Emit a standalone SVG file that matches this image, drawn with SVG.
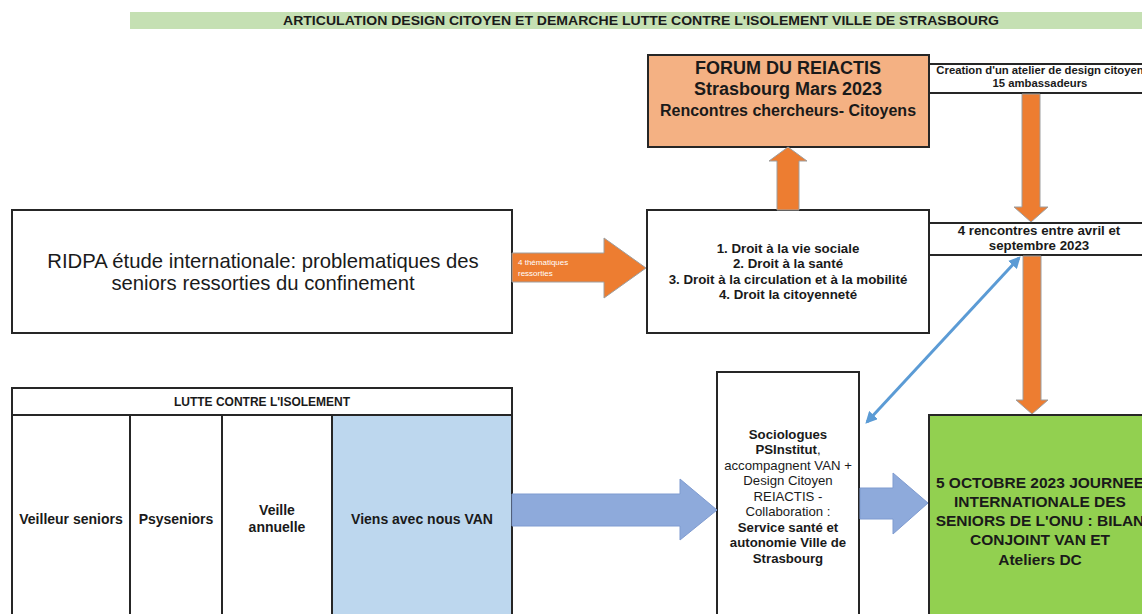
<svg xmlns="http://www.w3.org/2000/svg" width="1142" height="614" viewBox="0 0 1142 614">
<defs>
<style>
.box{stroke:#262626;stroke-width:2}
.t{font-family:"Liberation Sans",Arial,sans-serif;fill:#1a1a1a;text-anchor:middle}
.b{font-weight:bold}
.orange{fill:#ed7d31;stroke:#9e9e9e;stroke-width:1}
.blue{fill:#8eaadb;stroke:#7f9bd0;stroke-width:1}
</style>
<marker id="bh" viewBox="0 0 10 10" refX="8" refY="5" markerWidth="4" markerHeight="4" orient="auto-start-reverse">
<path d="M0,0 L10,5 L0,10 z" fill="#5b9bd5"/>
</marker>
</defs>
<rect width="1142" height="614" fill="#ffffff"/>

<g id="title">
<rect x="130" y="12" width="1012" height="17" fill="#c5e0b3"/>
<text class="t b" x="641" y="25" font-size="13" textLength="716" lengthAdjust="spacingAndGlyphs">ARTICULATION DESIGN CITOYEN ET DEMARCHE LUTTE CONTRE L'ISOLEMENT VILLE DE STRASBOURG</text>
</g>

<g id="forum">
<rect class="box" x="648" y="55" width="281" height="92" fill="#f4b183"/>
<text class="t b" x="788" y="74" font-size="18">FORUM DU REIACTIS</text>
<text class="t b" x="788" y="95" font-size="18">Strasbourg Mars 2023</text>
<text class="t b" x="788" y="116" font-size="16">Rencontres chercheurs- Citoyens</text>
</g>

<g id="creation">
<rect class="box" x="929" y="64" width="230" height="29" fill="#ffffff"/>
<text class="t b" x="1040" y="74" font-size="11.3">Creation d'un  atelier de design citoyen</text>
<text class="t b" x="1040" y="87" font-size="11.3">15 ambassadeurs</text>
</g>

<g id="ridpa">
<rect class="box" x="12" y="210" width="500" height="123" fill="#ffffff"/>
<text class="t" x="263" y="268" font-size="20.3">RIDPA étude internationale: problematiques des</text>
<text class="t" x="263" y="290" font-size="20.3">seniors ressorties du confinement</text>
</g>

<g id="droits">
<rect class="box" x="647" y="210" width="282" height="123" fill="#ffffff"/>
<text class="t b" x="788" y="253" font-size="13.3">1. Droit à la vie sociale</text>
<text class="t b" x="788" y="268" font-size="13.3">2. Droit à la santé</text>
<text class="t b" x="788" y="284" font-size="13.3">3. Droit à la circulation et à la mobilité</text>
<text class="t b" x="788" y="299" font-size="13.3">4. Droit la citoyenneté</text>
</g>

<g id="rencontres">
<rect class="box" x="929" y="223" width="230" height="32" fill="#ffffff"/>
<text class="t b" x="1039" y="235" font-size="13.3">4 rencontres entre avril  et</text>
<text class="t b" x="1039" y="250" font-size="13.3">septembre 2023</text>
</g>

<g id="lutte">
<rect x="332" y="415" width="180" height="213" fill="#bdd7ee"/>
<line x1="12" y1="415" x2="512" y2="415" stroke="#262626" stroke-width="2"/>
<line x1="130" y1="415" x2="130" y2="620" stroke="#262626" stroke-width="2"/>
<line x1="222" y1="415" x2="222" y2="620" stroke="#262626" stroke-width="2"/>
<line x1="332" y1="415" x2="332" y2="620" stroke="#262626" stroke-width="2"/>
<rect x="12" y="388" width="500" height="240" fill="none" stroke="#262626" stroke-width="2"/>
<text class="t b" x="262" y="406" font-size="12">LUTTE CONTRE L'ISOLEMENT</text>
<text class="t b" x="71" y="524" font-size="14">Veilleur seniors</text>
<text class="t b" x="176" y="524" font-size="14">Psyseniors</text>
<text class="t b" x="277" y="515" font-size="14">Veille</text>
<text class="t b" x="277" y="532" font-size="14">annuelle</text>
<text class="t b" x="422" y="524" font-size="14">Viens avec nous VAN</text>
</g>

<g id="sociologues">
<rect class="box" x="717" y="372" width="142" height="260" fill="#ffffff"/>
<text class="t b" x="788" y="439" font-size="13.2">Sociologues</text>
<text class="t" x="788" y="454" font-size="13.2"><tspan font-weight="bold">PSInstitut</tspan>,</text>
<text class="t" x="788" y="470" font-size="13.2">accompagnent VAN +</text>
<text class="t" x="788" y="485" font-size="13.2">Design Citoyen</text>
<text class="t" x="788" y="501" font-size="13.2">REIACTIS -</text>
<text class="t" x="788" y="516" font-size="13.2">Collaboration :</text>
<text class="t b" x="788" y="532" font-size="13.2">Service santé et</text>
<text class="t b" x="788" y="547" font-size="13.2">autonomie Ville de</text>
<text class="t b" x="788" y="563" font-size="13.2">Strasbourg</text>
</g>

<g id="journee">
<rect class="box" x="929" y="415" width="230" height="220" fill="#92d050"/>
<text class="t b" x="1040" y="488" font-size="15.5">5 OCTOBRE 2023 JOURNEE</text>
<text class="t b" x="1040" y="507" font-size="15.5">INTERNATIONALE DES</text>
<text class="t b" x="1040" y="526" font-size="15.5">SENIORS DE L'ONU : BILAN</text>
<text class="t b" x="1040" y="545" font-size="15.5">CONJOINT VAN ET</text>
<text class="t b" x="1040" y="565" font-size="15.5">Ateliers DC</text>
</g>

<g id="connectors">
<polygon class="orange" points="512,253 604,253 604,238 646,268 604,298 604,282 512,282"/>
<text x="518" y="265" font-family="Liberation Sans, Arial, sans-serif" font-size="8" fill="#ffffff">4 thématiques</text>
<text x="518" y="276" font-family="Liberation Sans, Arial, sans-serif" font-size="8" fill="#ffffff">ressorties</text>
<polygon class="orange" points="777,210 777,161 769,161 788,147 807,161 799,161 799,210"/>
<polygon class="orange" points="1022,94 1040,94 1040,207 1048,207 1031,222 1014,207 1022,207"/>
<polygon class="orange" points="1023,256 1041,256 1041,400 1048,400 1032,414 1016,400 1023,400"/>
<line x1="1019" y1="258" x2="867" y2="422" stroke="#5b9bd5" stroke-width="3" marker-start="url(#bh)" marker-end="url(#bh)"/>
<polygon class="blue" points="512,494 680,494 680,479 717,510 680,540 680,526 512,526"/>
<polygon class="blue" points="860,488 893,488 893,473 928,503 893,534 893,519 860,519"/>
</g>
</svg>
